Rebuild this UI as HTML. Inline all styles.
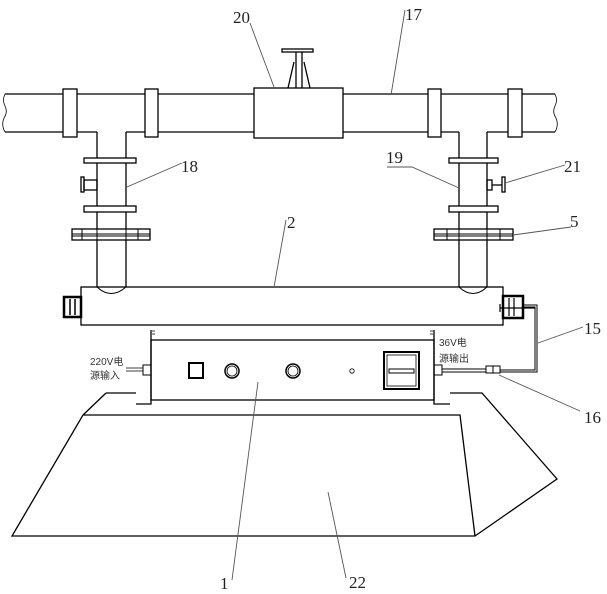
<!DOCTYPE html>
<html><head><meta charset="utf-8"><style>
html,body{margin:0;padding:0;background:#fff;}
svg{display:block;}
text{font-family:"Liberation Serif","Noto Serif CJK SC",serif;fill:#222;}
.s{font-family:"Liberation Sans","Noto Sans CJK SC",sans-serif;font-size:10px;fill:#333;}
</style></head><body>
<svg width="607" height="594" viewBox="0 0 607 594" xmlns="http://www.w3.org/2000/svg">
<g fill="none" stroke="#000" stroke-width="1.3">
<!-- main pipe -->
<path d="M5,94 H63 M77,94 H145 M158,94 H254 M343,94 H428 M441,94 H508 M522,94 H555"/>
<path d="M5,132 H63 M77,132 H97 M126,132 H145 M158,132 H254 M343,132 H428 M441,132 H459 M487,132 H508 M522,132 H555"/>
<path d="M5,94 q-3,6 0,12 q3,6 -1,12 q-3,7 1,14" stroke-width="0.8"/>
<path d="M555,94 q3,6 0,12 q-3,6 1,12 q3,7 -1,14" stroke-width="0.8"/>
<rect x="63" y="89" width="14" height="48" fill="#fff"/>
<rect x="145" y="89" width="13" height="48" fill="#fff"/>
<rect x="428" y="89" width="13" height="48" fill="#fff"/>
<rect x="508" y="89" width="14" height="48" fill="#fff"/>
<!-- valve 20 -->
<rect x="254" y="88" width="89" height="50" fill="#fff"/>
<rect x="282" y="49" width="31" height="3"/>
<path d="M296,52 V88 M302,52 V88"/>
<path d="M288,88 L294,62 M310,88 L304,62"/>
<!-- vertical pipes -->
<path d="M97,132 V287 M126,132 V287 M459,132 V287 M487,132 V287"/>
<path d="M97,287 Q111,300 126,287 M459,287 Q473,300 487,287" stroke-width="1"/>
<!-- small flanges -->
<rect x="84" y="158" width="52" height="5" fill="#fff"/>
<rect x="84" y="206" width="52" height="6" fill="#fff"/>
<rect x="449" y="158" width="49" height="5" fill="#fff"/>
<rect x="449" y="206" width="49" height="6" fill="#fff"/>
<!-- big flanges -->
<rect x="72" y="229" width="78" height="11" fill="#fff"/>
<path d="M72,234 H150 M72,236 H150 M82,229 V240 M97,229 V240 M126,229 V240 M138,229 V240" stroke-width="1"/>
<rect x="434" y="229" width="79" height="11" fill="#fff"/>
<path d="M434,234 H513 M434,236 H513 M447,229 V240 M459,229 V240 M487,229 V240 M500,229 V240" stroke-width="1"/>
<!-- side valves -->
<rect x="81" y="177" width="3" height="15"/>
<rect x="84" y="180" width="13" height="10"/>
<rect x="487" y="180" width="5" height="10"/>
<path d="M492,185 H502"/>
<rect x="502" y="177" width="3" height="15"/>
<!-- tube 2 -->
<rect x="81" y="287" width="422" height="38"/>
<rect x="64" y="297" width="17" height="20" stroke-width="2.5"/>
<path d="M70,299 V315 M75,299 V315" stroke-width="1.5"/>
<rect x="503" y="296" width="20" height="22" stroke-width="2.5"/>
<path d="M509,298 V316 M514,298 V316 M500,304 V312 M500,308 H535" stroke-width="1.2"/>
<!-- wire 15 -->
<path d="M523,305 H537 V372 H500 M523,307 H535 V370 H500" stroke-width="1"/>
<rect x="486" y="366" width="14" height="7" stroke-width="1"/>
<path d="M493,366 V373" stroke-width="1"/>
<path d="M442,369 H486 M442,372 H486" stroke-width="1"/>
<rect x="434" y="365" width="8" height="10" stroke-width="1"/>
<!-- control box -->
<rect x="151" y="340" width="283" height="60"/>
<path d="M151,330 V404 H136 M434,330 V404 H450"/>
<path d="M152,331 h3 M152,334 h3 M433,331 h-3 M433,334 h-3" stroke-width="0.8"/>
<rect x="143" y="365" width="8" height="10" stroke-width="1"/>
<path d="M126,368 H143 M126,371 H143" stroke-width="0.8"/>
<rect x="189" y="363" width="14" height="15" stroke-width="2"/>
<circle cx="232" cy="371" r="7" stroke-width="1.5"/>
<circle cx="232" cy="371" r="5" stroke-width="0.8"/>
<circle cx="293" cy="371" r="7" stroke-width="1.5"/>
<circle cx="293" cy="371" r="5" stroke-width="0.8"/>
<circle cx="352" cy="371" r="2.2" stroke-width="0.8"/>
<rect x="384" y="352" width="35" height="37" stroke-width="2"/>
<rect x="387" y="355" width="29" height="31" stroke-width="0.8"/>
<rect x="389" y="369" width="25" height="4" stroke-width="1"/>
<!-- hood -->
<path d="M106,393 H136 M450,393 H482 L557,479 L475,536 H12 L83,415 H460 L475,536 M83,415 L106,393"/>
</g>
<!-- leader lines -->
<g stroke="#555" stroke-width="0.9" fill="none">
<path d="M250,23 L274,87"/>
<path d="M405,10 L391,95"/>
<path d="M182,163 L127,187"/>
<path d="M387,167 H412 L459,188"/>
<path d="M565,165 L505,183"/>
<path d="M571,227 L513,235"/>
<path d="M286,220 L274,287"/>
<path d="M583,327 L538,343"/>
<path d="M580,411 L499,375"/>
<path d="M232,580 L258,382"/>
<path d="M346,578 L328,492"/>
</g>
<g font-size="17">
<text x="233" y="23">20</text>
<text x="405" y="20">17</text>
<text x="181" y="172">18</text>
<text x="386" y="163">19</text>
<text x="564" y="172">21</text>
<text x="570" y="227">5</text>
<text x="287" y="228">2</text>
<text x="584" y="334">15</text>
<text x="584" y="423">16</text>
<text x="220" y="589">1</text>
<text x="349" y="588">22</text>
</g>
<text class="s" x="90" y="365">220V电</text>
<text class="s" x="90" y="379">源输入</text>
<text class="s" x="439" y="346">36V电</text>
<text class="s" x="439" y="362">源输出</text>
</svg>
</body></html>
